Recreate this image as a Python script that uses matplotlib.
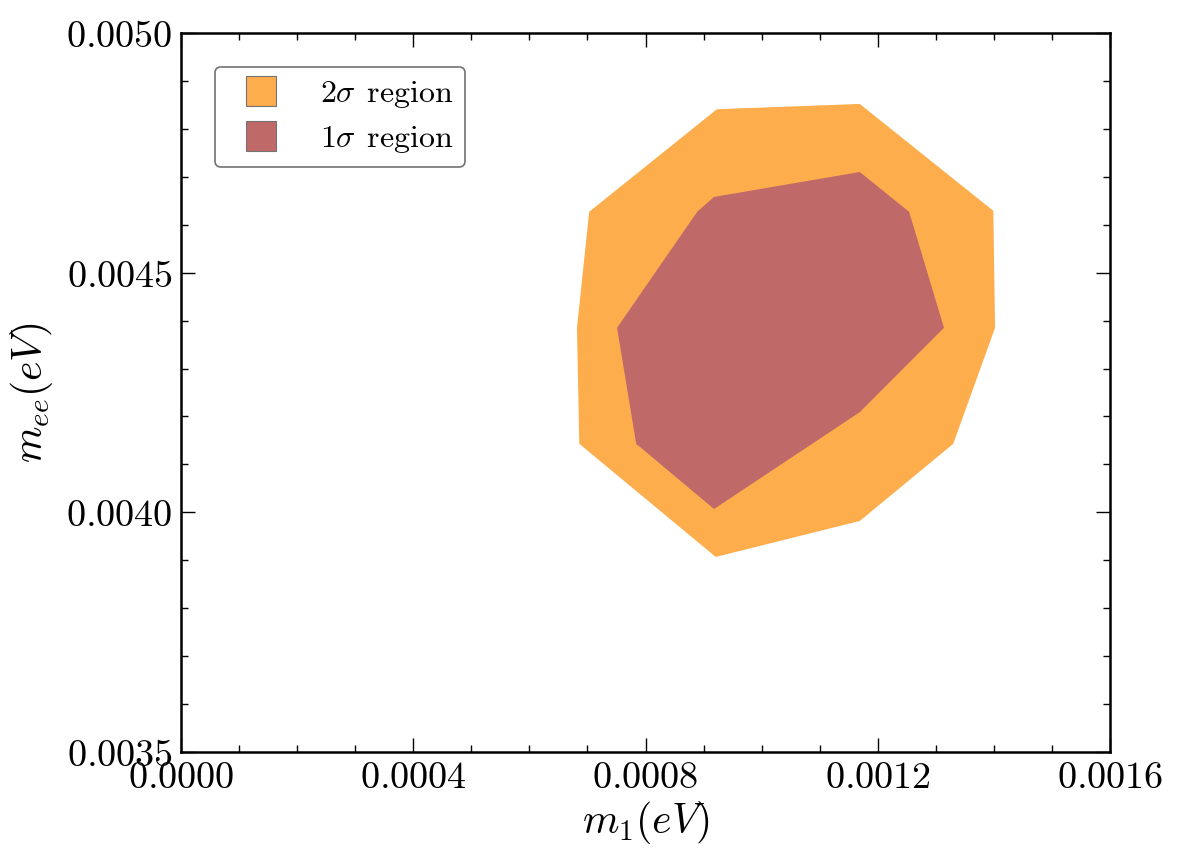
import matplotlib
matplotlib.use("Agg")
import matplotlib.pyplot as plt
from matplotlib.lines import Line2D
from matplotlib.ticker import MultipleLocator, FuncFormatter

# 2-sigma region boundary (m1, mee) in eV
m1_2sig = [0.000703, 0.000923, 0.001169, 0.001399, 0.001402, 0.001330,
           0.001169, 0.000921, 0.000686, 0.000682]
mee_2sig = [0.004627, 0.004841, 0.004852, 0.004629, 0.004385, 0.004143,
            0.003982, 0.003907, 0.004143, 0.004385]

# 1-sigma region boundary
m1_1sig = [0.000751, 0.000784, 0.000918, 0.001169, 0.001314, 0.001254,
           0.001169, 0.000918, 0.000889]
mee_1sig = [0.004385, 0.004143, 0.004007, 0.004209, 0.004385, 0.004627,
            0.004710, 0.004658, 0.004627]

labels = [r"$2\sigma\;\,\mathrm{region}$", r"$1\sigma\;\,\mathrm{region}$"]
colors = ["#FDAD4B", "#BF6969"]

xticks = [0.0000, 0.0004, 0.0008, 0.0012, 0.0016]
yticks = [0.0035, 0.0040, 0.0045, 0.0050]

plt.rcParams["mathtext.fontset"] = "cm"
plt.rcParams["font.family"] = "serif"

fig = plt.figure(figsize=(11.79, 8.66), dpi=100)
ax = fig.add_axes([0.1535, 0.1316, 0.788, 0.8303])

ax.fill(m1_2sig, mee_2sig, color=colors[0], lw=0)
ax.fill(m1_1sig, mee_1sig, color=colors[1], lw=0)

ax.set_xlim(0.0, 0.0016)
ax.set_ylim(0.0035, 0.0050)
ax.set_xticks(xticks)
ax.set_yticks(yticks)
ax.xaxis.set_minor_locator(MultipleLocator(0.0001))
ax.yaxis.set_minor_locator(MultipleLocator(0.0001))
fmt = FuncFormatter(lambda v, p: r"$%.4f$" % v)
ax.xaxis.set_major_formatter(fmt)
ax.yaxis.set_major_formatter(fmt)

ax.tick_params(which="both", direction="in", top=True, right=True,
               width=1.0, labelsize=27.5)
ax.tick_params(which="major", length=10, pad=6)
ax.tick_params(which="minor", length=5)
for s in ax.spines.values():
    s.set_linewidth(1.8)

ax.set_xlabel(r"$m_1(eV)$", fontsize=30, labelpad=2)
ax.set_ylabel(r"$m_{ee}(eV)$", fontsize=30, labelpad=8)

handles = [Line2D([], [], ls="none", marker="s", markersize=22,
                  markerfacecolor=c, markeredgecolor="0.45",
                  markeredgewidth=0.8) for c in colors]
leg = ax.legend(handles, labels, loc="upper left", fontsize=23,
                handlelength=2.2, handletextpad=0.75, numpoints=1,
                borderpad=0.36, labelspacing=0.42, borderaxespad=1.05,
                fancybox=True, framealpha=1.0)
leg.get_frame().set_edgecolor("0.45")
leg.get_frame().set_linewidth(1.2)

fig.savefig("out.png", dpi=100)
